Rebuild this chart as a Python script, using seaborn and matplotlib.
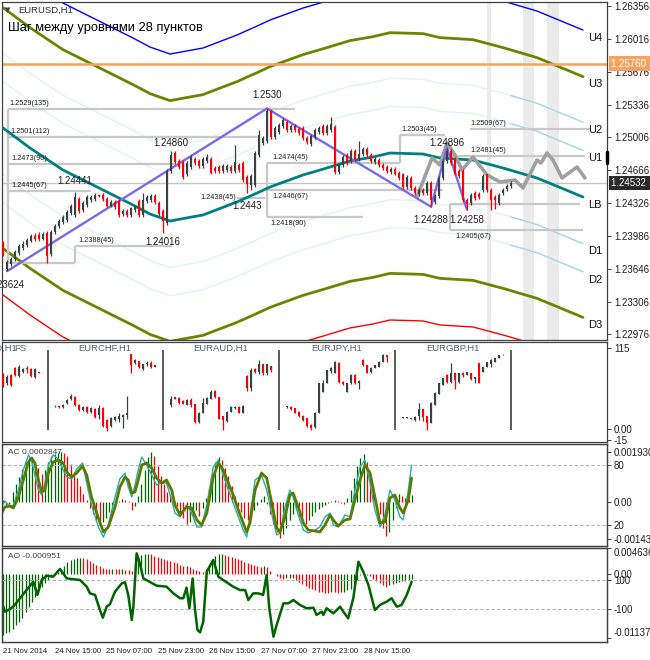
import numpy as np
import matplotlib
matplotlib.use("Agg")
import matplotlib.pyplot as plt
import seaborn as sns

sns.set_style("white")
plt.rcParams['font.family'] = ['Liberation Sans', 'DejaVu Sans']

W, H = 650, 660

# ---------------- EURUSD H1 candles (bar 0..127) ----------------
opens = [1.2392, 1.2365, 1.2370, 1.2375, 1.2381, 1.2386, 1.2389, 1.2394, 1.2399, 1.2400,
         1.2396, 1.2402, 1.2380, 1.2403, 1.2409, 1.2413, 1.2415, 1.2422, 1.2420, 1.2437,
         1.2425, 1.2431, 1.2436, 1.2437, 1.2441, 1.2441, 1.2437, 1.2430, 1.2434, 1.2435,
         1.2421, 1.2424, 1.2420, 1.2425, 1.2435, 1.2420, 1.2435, 1.2436, 1.2440, 1.2433,
         1.2424, 1.2412, 1.2466, 1.2484, 1.2476, 1.2475, 1.2462, 1.2470, 1.2478, 1.2476,
         1.2471, 1.2476, 1.2478, 1.2469, 1.2470, 1.2466, 1.2467, 1.2470, 1.2466, 1.2472,
         1.2474, 1.2459, 1.2451, 1.2451, 1.2482, 1.2494, 1.2496, 1.2527, 1.2501, 1.2506,
         1.2512, 1.2516, 1.2508, 1.2512, 1.2509, 1.2510, 1.2500, 1.2493, 1.2501, 1.2506,
         1.2512, 1.2505, 1.2508, 1.2511, 1.2465, 1.2472, 1.2482, 1.2476, 1.2486, 1.2478,
         1.2483, 1.2488, 1.2482, 1.2475, 1.2477, 1.2472, 1.2470, 1.2465, 1.2468, 1.2464,
         1.2462, 1.2449, 1.2458, 1.2448, 1.2442, 1.2446, 1.2443, 1.2453, 1.2434, 1.2440,
         1.2458, 1.2476, 1.2486, 1.2478, 1.2466, 1.2466, 1.2436, 1.2433, 1.2443, 1.2442,
         1.2446, 1.2462, 1.2446, 1.2439, 1.2433, 1.2443, 1.2447, 1.2450]
highs = [1.2394, 1.2374, 1.2377, 1.2384, 1.2390, 1.2393, 1.2397, 1.2401, 1.2402, 1.2403,
         1.2403, 1.2404, 1.2405, 1.2411, 1.2416, 1.2420, 1.2425, 1.2432, 1.24441, 1.2439,
         1.2435, 1.2441, 1.2441, 1.2443, 1.2442, 1.2443, 1.2439, 1.2436, 1.2436, 1.2437,
         1.2426, 1.2426, 1.2429, 1.2431, 1.2437, 1.2443, 1.2441, 1.2442, 1.2442, 1.2435,
         1.2426, 1.2468, 1.24860, 1.2486, 1.2478, 1.2477, 1.2476, 1.2482, 1.2480, 1.2478,
         1.2480, 1.2483, 1.2480, 1.2471, 1.2472, 1.2473, 1.2473, 1.2472, 1.2492, 1.2474,
         1.2476, 1.2461, 1.2462, 1.2486, 1.2508, 1.2502, 1.2530, 1.2529, 1.2512, 1.2515,
         1.2520, 1.2518, 1.2514, 1.2514, 1.2511, 1.2512, 1.2502, 1.2504, 1.2510, 1.2512,
         1.2514, 1.2514, 1.2521, 1.2513, 1.2474, 1.2482, 1.2484, 1.2488, 1.2488, 1.2496,
         1.2490, 1.2490, 1.2484, 1.2480, 1.2479, 1.2474, 1.2472, 1.2470, 1.2470, 1.2466,
         1.2464, 1.2461, 1.2460, 1.2450, 1.2448, 1.2448, 1.2455, 1.2455, 1.2442, 1.2460,
         1.2478, 1.24896, 1.2488, 1.2480, 1.2468, 1.2468, 1.2438, 1.2443, 1.2445, 1.2444,
         1.2462, 1.2463, 1.2448, 1.2441, 1.2443, 1.2448, 1.2452, 1.2455]
lows = [1.2378, 1.23624, 1.2368, 1.2373, 1.2379, 1.2384, 1.2387, 1.2392, 1.2394, 1.2394,
        1.2395, 1.2371, 1.2378, 1.2401, 1.2407, 1.2411, 1.2413, 1.2420, 1.2418, 1.2422,
        1.2423, 1.2429, 1.2434, 1.2435, 1.2439, 1.2435, 1.2428, 1.2428, 1.2426, 1.2418,
        1.2419, 1.2418, 1.2418, 1.2423, 1.2418, 1.2418, 1.2433, 1.2434, 1.2432, 1.2419,
        1.24016, 1.2410, 1.2464, 1.2473, 1.2468, 1.2457, 1.2460, 1.2468, 1.2472, 1.2469,
        1.2469, 1.2474, 1.2462, 1.2464, 1.2464, 1.2464, 1.2465, 1.2464, 1.2464, 1.2465,
        1.2454, 1.2443, 1.2446, 1.2449, 1.2480, 1.2492, 1.2494, 1.2499, 1.2499, 1.2504,
        1.2510, 1.2506, 1.2506, 1.2506, 1.2503, 1.2498, 1.2493, 1.2491, 1.2499, 1.2504,
        1.2503, 1.2503, 1.2506, 1.2463, 1.2463, 1.2470, 1.2472, 1.2474, 1.2476, 1.2476,
        1.2481, 1.2480, 1.2474, 1.2473, 1.2470, 1.2467, 1.2464, 1.2463, 1.2461, 1.2456,
        1.2447, 1.2447, 1.2446, 1.2441, 1.2440, 1.2441, 1.2441, 1.24288, 1.2432, 1.2438,
        1.2456, 1.2474, 1.2472, 1.2461, 1.2458, 1.2434, 1.24258, 1.2431, 1.2436, 1.2437,
        1.2444, 1.2444, 1.2425, 1.2426, 1.2431, 1.2441, 1.2445, 1.2448]
closes = [1.2380, 1.2372, 1.2375, 1.2382, 1.2388, 1.2390, 1.2395, 1.2399, 1.2396, 1.2396,
          1.2401, 1.2378, 1.2403, 1.2409, 1.2414, 1.2418, 1.2423, 1.2430, 1.2439, 1.2424,
          1.2433, 1.2439, 1.2439, 1.2441, 1.2440, 1.2437, 1.2430, 1.2434, 1.2428, 1.2420,
          1.2424, 1.2420, 1.2427, 1.2429, 1.2420, 1.2436, 1.2439, 1.2440, 1.2434, 1.2421,
          1.2414, 1.2466, 1.2482, 1.2475, 1.2470, 1.2459, 1.2474, 1.2480, 1.2474, 1.2471,
          1.2478, 1.2480, 1.2464, 1.2466, 1.2466, 1.2471, 1.2471, 1.2466, 1.2475, 1.2467,
          1.2456, 1.2452, 1.2460, 1.2484, 1.2503, 1.2500, 1.2527, 1.2501, 1.2510, 1.2513,
          1.2518, 1.2508, 1.2512, 1.2508, 1.2505, 1.2500, 1.2495, 1.2502, 1.2508, 1.2510,
          1.2505, 1.2512, 1.2514, 1.2465, 1.2472, 1.2480, 1.2474, 1.2486, 1.2478, 1.2483,
          1.2488, 1.2482, 1.2476, 1.2478, 1.2472, 1.2469, 1.2466, 1.2468, 1.2463, 1.2458,
          1.2449, 1.2459, 1.2448, 1.2443, 1.2446, 1.2443, 1.2453, 1.2436, 1.2440, 1.2458,
          1.2476, 1.2486, 1.2474, 1.2463, 1.2460, 1.2436, 1.2432, 1.2441, 1.2438, 1.2439,
          1.2460, 1.2446, 1.2436, 1.2436, 1.2441, 1.2446, 1.2450, 1.24532]

# moving average (LB) and envelope offsets
ma_bar = [-1, 0, 6.75, 15, 22.5, 32.5, 36.75, 41.75, 50, 58.5, 63.5, 66.75, 75, 79.25,
          86.75, 92.5, 96.75, 105, 109.25, 117.5, 125, 133.5, 145]
ma_price = [1.2512, 1.25099, 1.24893, 1.24666, 1.24512, 1.24306, 1.24213, 1.24141, 1.24203,
            1.24337, 1.24429, 1.24491, 1.24615, 1.24666, 1.24759, 1.24800, 1.24841, 1.24831,
            1.24790, 1.24769, 1.24687, 1.24584, 1.24388]
env_offsets = [0.0048, 0.0077, 0.0124, 0.0172]
env_names_up = ['U1', 'U2', 'U3', 'U4']
env_names_dn = ['D1', 'D2', 'D3', '']

# zigzag and projected pattern
zz_bar = [1, 66, 107, 111, 116]
zz_price = [1.23624, 1.2530, 1.24288, 1.24896, 1.24258]
proj_bar = [103.5, 107.25, 109.25, 111, 113, 114.75, 117.5, 121, 124.25, 128, 130, 133.5,
            134.5, 136, 137.5, 139.75, 143.5, 145.5]
proj_price = [1.24388, 1.24790, 1.24718, 1.24945, 1.24821, 1.24666, 1.24800, 1.24615,
              1.24543, 1.24563, 1.24481, 1.24769, 1.24738, 1.24841, 1.24769, 1.24584,
              1.24697, 1.24584]

# swing labels
swing_bar = [66, 42, 18, 40, 61, 1, 107, 111, 116]
swing_price = [1.2530, 1.24860, 1.24441, 1.24016, 1.2443, 1.23624, 1.24288, 1.24896, 1.24258]
swing_text = ['1.2530', '1.24860', '1.24441', '1.24016', '1.2443', '1.23624', '1.24288',
              '1.24896', '1.24258']
swing_off = [6, 2, 4, -3, -6, -6, -6, 0, -4]

# level boxes
level_vals = [1.2529, 1.2501, 1.2473, 1.2445, 1.2388, 1.2438, 1.2474, 1.2446, 1.2418,
              1.2503, 1.2509, 1.2481, 1.2405]
level_cnt = [135, 112, 90, 67, 45, 45, 45, 67, 90, 45, 67, 45, 67]
level_from = [1.25, 1.25, 1.25, 1.25, 18, 58.5, 66, 66, 66, 99.25, 116.75, 109.25, 111.75]
level_to = [73, 64, 43, 22, 42.25, 65.5, 99.25, 110, 90, 110.5, 146.75, 145.5, 145]
level_lab_x = [1.5, 1.75, 2, 2, 18.75, 58.3, 67.25, 67.25, 66.75, 99.5, 116.75, 116.75, 113]
level_lab_pos = ['a', 'a', 'a', 'a', 'a', 'l', 'a', 'b', 'b', 'a', 'a', 'a', 'b']
plain_vals = [1.2371, 1.2432]
plain_from = [1.25, 111.75]
plain_to = [18, 144.25]
vert_bar = [1.25, 18, 66, 99.25, 111.75]
vert_lo = [1.2371, 1.2371, 1.2418, 1.2474, 1.2405]
vert_hi = [1.2529, 1.2388, 1.2474, 1.2503, 1.2432]
shade_from = [121, 130, 136]
shade_to = [122, 132.75, 139]

price_ticks = [1.26356, 1.26016, 1.25676, 1.25336, 1.25006, 1.24666, 1.24326, 1.23986,
               1.23646, 1.23306, 1.22976]
last_price = 1.24532
alert_price = 1.25760

# ---------------- mini charts (normalised 0..115) ----------------
mini_names = ['EURUSD,H1', 'EURCHF,H1', 'EURAUD,H1', 'EURJPY,H1', 'EURGBP,H1']
fs_ohlc = [(76.7, 79.5, 59.7, 62.5), (65.3, 76.7, 62.5, 73.9), (76.7, 78, 61, 62.5),
           (86.6, 88, 75, 76.7), (75.3, 90.9, 73.9, 88), (80.9, 86.6, 80, 85.2),
           (86.6, 89.5, 79.5, 85.2), (85.2, 86.6, 73.9, 75.3), (73.9, 86.6, 72.4, 85.2),
           (81, 81.5, 80, 80)]
chf_ohlc = [(32.7, 33.5, 31.5, 32), (32, 33, 30, 31.3), (31.3, 35.5, 30, 34.1),
            (36.9, 43, 36, 41.2), (42.6, 49, 41.2, 46.9), (45.5, 46.5, 33, 34.1),
            (34.1, 35, 26, 27), (27, 32, 26, 31.3), (31.3, 32, 23, 24.1), (24.1, 31, 23, 29.8),
            (28.4, 29.8, 16, 17), (19.9, 34, 14.2, 29.8), (29.8, 31, 3, 4.3),
            (12.8, 14.2, -2.8, 1.4), (4.3, 17, 3, 15.6), (12.8, 18.5, 12, 17),
            (14.2, 22.7, 10, 18.5), (17, 21, 2, 19.9), (19.9, 46.9, 14.2, 22.7),
            (106.5, 106.5, 79.5, 90.9), (93.8, 99, 92, 98), (96.6, 97, 87, 88.1),
            (85.2, 93, 84, 92.3), (92.3, 96.6, 90, 93.8), (93.8, 97, 87, 88.1),
            (88.1, 91, 88, 90.9)]
aud_ohlc = [(34.1, 46.9, 31.3, 42.6), (45.5, 46, 42, 42.6), (44, 45, 36, 36.9),
            (39.8, 40.5, 35, 35.5), (34.1, 42, 33.5, 41.2), (41.2, 44, 31.3, 34.1),
            (35.5, 36, 9, 9.9), (9.9, 23.5, 9, 22.7), (22.7, 44, 22, 36.9), (35.5, 45, 35, 44),
            (42.6, 56, 42, 52.6), (54, 56, 44.5, 45.5), (45.5, 46, 13.5, 14.2),
            (18.5, 19, -1.4, 12.8), (11.4, 25, 10.5, 24.1), (24.1, 32, 23.5, 31.3),
            (29.8, 32, 28.5, 30.5), (31.3, 32, 22, 22.7), (22.7, 33.5, 22, 32.7),
            (75.3, 76, 54, 58.2), (58.2, 87, 54, 83.8), (85.2, 87, 79.5, 81),
            (81, 98, 78, 92.3), (92.3, 93, 77, 79.5), (79.5, 93, 77, 92.3), (89.5, 90, 81, 83.8)]
jpy_ohlc = [(31.3, 33, 30, 31.8), (31.3, 32, 27.5, 28.4), (29.8, 30.5, 22, 22.7),
            (24.1, 25, 17.5, 18.5), (18.5, 19.5, 12, 12.8), (15.6, 16, 3.5, 4.3),
            (5.7, 6.5, -1.4, 1.4), (2.8, 23.5, 2, 22.7), (22.7, 66, 22, 65.3),
            (52.6, 69.6, 52, 65.3), (65.3, 84.5, 65, 83.8), (82, 88, 80, 86.5),
            (79.5, 96, 79, 95.2), (93.8, 95, 66, 66.8), (66.8, 67.5, 63, 63.9),
            (52.6, 66, 52, 65.3), (65.3, 77.5, 64.5, 76.7), (76.7, 77.5, 64.5, 65.3),
            (65.3, 69, 56.8, 68.2), (98, 99, 90, 90.9), (90.9, 91.5, 79, 79.5),
            (81, 87.5, 80, 86.6), (86.6, 91.5, 86, 90.9), (88.1, 96, 87.5, 95.2),
            (95.2, 106, 94.5, 105), (105, 105.5, 95.2, 102)]
gbp_ohlc = [(15.6, 17, 15, 16), (15.6, 16.5, 15, 16), (14.9, 16, 13.5, 14.2),
            (12.8, 18, 12, 17), (18.5, 36.9, 12.8, 28.4), (28.4, 29, 11, 17),
            (18.5, 19, -1.4, 8.5), (8.5, 39, 8, 36.9), (34.1, 52, 33.5, 51.1),
            (49.7, 66, 49, 65.3), (62.5, 73, 62, 72.4), (76.7, 77.5, 66, 66.8),
            (66.8, 93.8, 65.3, 79.5), (79.5, 80, 56.8, 69.6), (66.8, 80, 66, 79.5),
            (79.5, 81, 74, 76.7), (76.7, 81.5, 76, 81), (79.5, 80, 70, 71),
            (71, 74.5, 65.3, 73.9), (93.8, 94, 65, 65.3), (81, 88.5, 80.5, 88.1),
            (88.1, 95.5, 87.5, 95.2), (92.3, 100, 88, 98), (95.2, 101.5, 94.5, 100.9),
            (100.9, 105.5, 100.5, 105), (105, 106, 104.5, 105.5)]
mini_first_slot = [0, 13, 42, 71, 100]
mini_sep = [11.25, 40, 69, 98, 127]

# ---------------- AC panel ----------------
ac_hist_e5 = [8, -12, -8, 39, 69, 97, 127, 154, 170, 174,
              154, 131, 108, 124, 154, 178, 185, 189, 193, 189,
              178, 147, 116, 93, 62, 31, 8, -23, -46, -69,
              -85, -77, -62, -39, -19, -8, 4, 12, 8, 4,
              -31, -15, 23, 69, 124, 174, 193, 178, 139, 100,
              69, 39, 27, 8, -15, -39, -62, -85, -77, -54,
              -31, -54, -23, 15, 54, 108, 154, 174, 162, 131,
              100, 62, 23, -15, -39, -62, -69, -54, -31, -12,
              12, 23, -8, -46, -85, -116, -139, -124, -100, -69,
              -46, -31, -54, -77, -85, -69, -54, -39, -27, -19,
              -12, -4, 4, 8, 4, -4, -8, 15, 46, 93,
              139, 170, 185, 154, 108, 62, 8, -46, -100, -131,
              -116, -69, -23, 31, 23, 15, 12, 27]
st_bar = [-0.9, 0.6, 2.2, 3.2, 4.8, 6.3, 7.9, 8.9, 9.9, 11.0, 12.0, 13.0, 14.1, 15.6, 17.2,
          18.7, 19.8, 21.3, 22.9, 24.7, 26.0, 27.5, 29.6, 31.2, 32.7, 34.8, 36.3, 37.9, 38.9,
          40.0, 41.0, 42.0, 43.1, 44.6, 46.2, 47.7, 49.3, 50.8, 52.4, 53.4, 55.0, 57.0, 58.6,
          60.2, 61.7, 63.3, 65.3, 66.9, 68.4, 70.0, 71.5, 73.1, 74.6, 75.7, 76.7, 78.3, 80.3,
          81.9, 83.4, 85.0, 86.0, 87.6, 89.1, 90.1, 91.7, 93.3, 94.8, 96.9, 98.4, 100.0, 101.6,
          102.6, 104.1, 106.2, 107.8, 109.3, 110.9, 112.4, 114.0, 115.5, 117.1, 118.6, 120.2,
          121.7, 123.3, 124.3, 125.9, 126.9]
st_main = [29, 38, 39, 37, 48, 65, 83, 87, 82, 65, 53, 55, 72, 83, 85, 82, 73, 68, 72, 79,
           70, 48, 27, 13, 18, 38, 58, 68, 65, 52, 53, 65, 80, 82, 77, 67, 62, 65, 55, 40,
           30, 38, 37, 25, 20, 32, 68, 82, 75, 62, 50, 35, 22, 13, 22, 55, 72, 67, 43, 17,
           13, 28, 50, 52, 38, 22, 15, 14, 13, 20, 30, 25, 19, 25, 26, 45, 65, 80, 72, 48,
           22, 23, 47, 50, 37, 32, 45, 67]
st_signal = [35, 44, 38, 40, 55, 75, 90, 84, 70, 55, 50, 62, 80, 90, 86, 75, 68, 66, 76, 82,
             62, 40, 18, 8, 20, 48, 66, 72, 58, 48, 60, 75, 88, 80, 70, 60, 62, 62, 45, 32,
             28, 40, 32, 18, 18, 40, 78, 85, 70, 55, 42, 28, 15, 8, 28, 65, 70, 55, 32, 10,
             12, 38, 55, 48, 30, 15, 12, 15, 18, 28, 32, 20, 18, 30, 28, 55, 78, 85, 62, 35,
             18, 30, 55, 45, 28, 25, 55, 80]

# ---------------- AO panel ----------------
ao_hist_e4 = [-108, -105, -102, -97, -91, -84, -77, -68, -59, -50,
              -41, -32, -23, -16, -10, -5, -1, 4, 9, 15,
              21, 25, 26, 28, 29, 28, 26, 23, 20, 17,
              14, 11, 10, 9, 9.5, 9.3, 9.0, 9.1, 8, 7,
              5, 17, 30, 34, 35, 36, 35, 33, 31, 29,
              27, 25, 24, 21, 19, 17, 15, 14, 12, 10,
              8, 6, 4, 9, 17, 25, 33, 35, 36, 34,
              32, 31, 28, 26, 25, 22, 20, 18, 17, 15,
              13, 14, 13, 6, 0, -4, -7, -9, -7, -6,
              -7, -10, -14, -18, -21, -25, -27, -29, -31, -32,
              -33, -33.5, -32, -32.5, -33, -32, -31, -29, -26, -19,
              -10, -2, 2, -1, -4, -8, -12, -15, -19, -22,
              -20, -18, -16, -14, -13, -12, -11, -9.5]
cci_bar = [-0.1, 0.6, 1.7, 3.2, 5.3, 7.3, 9.4, 10.7, 12.0, 13.6, 15.6, 17.7, 19.8, 23.9, 26.0,
           27.0, 28.6, 30.1, 31.0, 32.2, 33.2, 34.8, 36.9, 37.9, 38.9, 40.0, 40.5, 41.5, 42.5,
           43.6, 47.7, 50.8, 52.9, 55.0, 56.0, 57.0, 57.9, 58.9, 59.6, 60.4, 61.2, 62.2, 63.3,
           65.3, 66.9, 68.4, 71.5, 73.6, 75.2, 76.2, 77.7, 79.3, 80.8, 81.9, 82.7, 84.0, 85.0,
           87.1, 88.6, 90.2, 92.2, 94.3, 96.4, 97.4, 99.0, 99.5, 100.5, 102.6, 104.7, 105.7,
           107.2, 108.8, 110.4, 111.9, 113.5, 115.5, 117.1, 119.2, 120.7, 122.3, 123.8, 125.4,
           126.9]
cci_val = [-72, -118, -107, -84, -26, 31, 88, -3, 100, 130, 123, 176, 111, 100, 54, 8, -3,
           -107, -160, -84, -68, 20, 77, 84, -3, -176, -84, 284, 215, 111, 61, 54, 8, -26, -26,
           47, -95, 111, -95, -245, -261, -187, 158, 238, 123, 100, 54, 31, 31, -38, 8, 8, -3,
           135, -95, -291, -210, -61, -61, -38, -72, -95, -91, -141, -118, -141, -95, -130,
           -84, -118, -164, -26, 226, 158, 66, -107, -72, -49, -26, -84, -72, -3, 88]

date_ticks = [0, 16, 32, 48, 64, 80, 96, 112]
date_labels = ['21 Nov 2014', '24 Nov 15:00', '25 Nov 07:00', '25 Nov 23:00',
               '26 Nov 15:00', '27 Nov 07:00', '27 Nov 23:00', '28 Nov 15:00']

UP, DN = '#3c4040', '#ff0000'
TXT = '#202020'


def rect(x0, y0, x1, y1):
    return [x0 / W, 1 - y1 / H, (x1 - x0) / W, (y1 - y0) / H]


def frame(ax):
    for s in ax.spines.values():
        s.set_color('#404040')
        s.set_linewidth(0.9)
    ax.set_facecolor('white')
    ax.tick_params(axis='y', which='both', direction='out', length=3, width=0.7,
                   colors='#404040', labelcolor=TXT, labelsize=7, pad=2)


def draw_candles(ax, x, o, h, l, c, width, minbody, z=5):
    o, h, l, c = map(np.asarray, (o, h, l, c))
    cols = np.where(c >= o, UP, DN)
    ax.vlines(x, l, h, colors=cols, lw=0.9, zorder=z)
    body = np.maximum(np.abs(c - o), minbody)
    ax.bar(x, body, width, bottom=np.minimum(o, c), color=cols, linewidth=0, zorder=z + 0.1)


fig = plt.figure(figsize=(W / 100, H / 100), dpi=100)

# ================= main chart =================
ax1 = fig.add_axes(rect(2, 2, 607, 340))
frame(ax1)
ax1.set_xlim(-0.25, 151)
ax1.set_ylim(1.22915, 1.26397)
ax1.set_xticks([])
ax1.yaxis.tick_right()
ax1.set_yticks(price_ticks)
ax1.set_yticklabels([f'{v:.5f}' for v in price_ticks])

for a, b in zip(shade_from, shade_to):
    ax1.axvspan(a, b, color='#ebebeb', lw=0, zorder=0)

ma_bar_a = np.array(ma_bar)
ma_p = np.array(ma_price)
split = 127
for k, off in enumerate(env_offsets):
    for sgn in (1, -1):
        yv = ma_p + sgn * off
        if k < 2:
            sns.lineplot(x=ma_bar_a, y=yv, ax=ax1, color='#e6f2f6', lw=1, estimator=None,
                         sort=False, zorder=1)
            m = ma_bar_a >= split
            xs = np.concatenate([[split], ma_bar_a[m]])
            ys = np.concatenate([[np.interp(split, ma_bar_a, yv)], yv[m]])
            ax1.plot(xs, ys, color='#a6d8e4', lw=1, zorder=1)
        elif k == 2:
            sns.lineplot(x=ma_bar_a, y=yv, ax=ax1, color='#6b8500', lw=2, estimator=None,
                         sort=False, zorder=2)
        else:
            sns.lineplot(x=ma_bar_a, y=yv, ax=ax1, color='#0000ff' if sgn > 0 else '#ff0000',
                         lw=1, estimator=None, sort=False, zorder=2)
sns.lineplot(x=ma_bar_a, y=ma_p, ax=ax1, color='#008080', lw=2, estimator=None, sort=False,
             zorder=3)

ax1.axhline(alert_price, color='#f4a460', lw=1.8, zorder=2)
ax1.axhline(last_price, color='#c4c4c4', lw=1, zorder=2)

lv = dict(color='#c8c8c8', lw=1.6, zorder=2, solid_capstyle='butt')
for v, a, b in zip(level_vals, level_from, level_to):
    ax1.plot([a, b], [v, v], **lv)
for v, a, b in zip(plain_vals, plain_from, plain_to):
    ax1.plot([a, b], [v, v], **lv)
for xb, lo, hi in zip(vert_bar, vert_lo, vert_hi):
    ax1.plot([xb, xb], [lo, hi], **lv)
for v, n, xl, pos in zip(level_vals, level_cnt, level_lab_x, level_lab_pos):
    lab = f'{v:.4f}({n})'
    if pos == 'l':
        ax1.annotate(lab, (xl, v), xytext=(0, 0), textcoords='offset points', ha='right',
                     va='center', fontsize=5.3, color=TXT, zorder=6)
    elif pos == 'a':
        ax1.annotate(lab, (xl, v), xytext=(0, 1.5), textcoords='offset points', ha='left',
                     va='bottom', fontsize=5.3, color=TXT, zorder=6)
    else:
        ax1.annotate(lab, (xl, v), xytext=(0, -2), textcoords='offset points', ha='left',
                     va='top', fontsize=5.3, color=TXT, zorder=6)

sns.lineplot(x=proj_bar, y=proj_price, ax=ax1, color='#a0a0a0', lw=2.6, estimator=None,
             sort=False, zorder=3)
ax1.plot(zz_bar, zz_price, color='#7b68ee', lw=1.7, zorder=4)

draw_candles(ax1, np.arange(len(closes)), opens, highs, lows, closes, 0.65, 0.00002)

for xb, p, t, off in zip(swing_bar, swing_price, swing_text, swing_off):
    ax1.annotate(t, (xb, p), xytext=(0, off), textcoords='offset points', ha='center',
                 va='bottom' if off >= 0 else 'top', fontsize=7, color=TXT, zorder=7)

end_ma = ma_price[-1]
for name, off in zip(env_names_up, env_offsets):
    ax1.annotate(name, (146.2, end_ma + off), xytext=(0, -2), textcoords='offset points',
                 ha='left', va='top', fontsize=8, color='#101010')
for name, off in zip(env_names_dn, env_offsets):
    if name:
        ax1.annotate(name, (146.2, end_ma - off), xytext=(0, -2), textcoords='offset points',
                     ha='left', va='top', fontsize=8, color='#101010')
ax1.annotate('LB', (146.2, end_ma), xytext=(0, -2), textcoords='offset points', ha='left',
             va='top', fontsize=8, color='#101010')

ytr = ax1.get_yaxis_transform()
ax1.text(1.0 + 4 / 605, alert_price, '1.25760  ', transform=ytr, ha='left', va='center',
         fontsize=7, color='white', clip_on=False, zorder=8,
         bbox=dict(boxstyle='square,pad=0.25', fc='#f4a460', ec='none'))
ax1.text(1.0 + 4 / 605, last_price, '1.24532  ', transform=ytr, ha='left', va='center',
         fontsize=7, color='white', clip_on=False, zorder=8,
         bbox=dict(boxstyle='square,pad=0.25', fc='#2a2a2a', ec='none'))
ax1.plot([1.0, 1.0], [1.24852, 1.24738], transform=ytr, color='black', lw=2.5,
         clip_on=False, zorder=9)

fig.text(5 / W, 1 - 10 / H, '▼', fontsize=5, color='#404040', va='center',
         family='DejaVu Sans')
fig.text(18 / W, 1 - 10 / H, 'EURUSD,H1', fontsize=6.8, color='#303030', va='center')
fig.text(8 / W, 1 - 28 / H, 'Шаг между уровнями 28 пунктов', fontsize=9.3, color='black',
         va='center')

# ================= mini charts panel =================
ax2 = fig.add_axes(rect(2, 342, 607, 442))
frame(ax2)
ax2.set_xlim(-0.25, 151)
ax2.set_ylim(-18.5, 123.6)
ax2.set_xticks([])
ax2.yaxis.tick_right()
ax2.set_yticks([115, 0, -15])
ax2.set_yticklabels(['115', '0.00', '-15'])
sec_data = [fs_ohlc, chf_ohlc, aud_ohlc, jpy_ohlc, gbp_ohlc]
for k, (data, start) in enumerate(zip(sec_data, mini_first_slot)):
    arr = np.array(data)
    xs = start + np.arange(len(arr))
    draw_candles(ax2, xs, arr[:, 0], arr[:, 1], arr[:, 2], arr[:, 3], 0.7, 0.8)
    left = mini_sep[k] - 29
    ax2.text((left + mini_sep[k]) / 2, 115, mini_names[k], ha='center', va='center',
             fontsize=6.8, color='#56606e')
ax2.text(2.8, 115, 'FS', ha='left', va='center', fontsize=6.8, color='#56606e')
ax2.vlines(mini_sep, -1.4, 112, colors='#404040', lw=1.2)

# ================= AC panel =================
ax3 = fig.add_axes(rect(2, 444, 607, 546))
frame(ax3)
ax3.set_xlim(-0.31, 187.6)
ax3.set_ylim(-0.001698, 0.002239)
ax3.set_xticks([])
ac = np.array(ac_hist_e5) * 1e-5
ac_cols = [('#006400' if (i == 0 or ac[i] >= ac[i - 1]) else '#ff0000') for i in range(len(ac))]
ax3.vlines(np.arange(len(ac)), 0, ac, colors=ac_cols, lw=0.9)
ax3s = ax3.twinx()
frame(ax3s)
ax3.yaxis.tick_right()
ax3.set_yticks([0.00193, 0.0, -0.001432])
ax3.set_yticklabels(['0.001930', '0.00', '-0.001432'])
ax3s.set_ylim(-1, 101)
ax3s.set_yticks([80, 20])
ax3s.set_yticklabels(['80', '20'])
for lvl in (80, 20):
    ax3s.axhline(lvl, color='#b4b4b4', lw=0.8, ls=(0, (3, 2)))
sns.lineplot(x=st_bar, y=st_signal, ax=ax3s, color='#20b2aa', lw=1, estimator=None, sort=False)
sns.lineplot(x=st_bar, y=st_main, ax=ax3s, color='#5a7a00', lw=2, estimator=None, sort=False)
ax3s.set_xlim(-0.31, 187.6)
fig.text(8 / W, 1 - 452 / H, 'AC 0.0002847', fontsize=6, color='#404040', va='center')

# ================= AO panel =================
ax4 = fig.add_axes(rect(2, 548, 607, 642))
frame(ax4)
ax4.set_xlim(-0.31, 187.6)
ax4.set_ylim(-0.012035, 0.004602)
ao = np.array(ao_hist_e4) * 1e-4
ao_cols = [('#006400' if (i == 0 or ao[i] >= ao[i - 1]) else '#ff0000') for i in range(len(ao))]
ax4.vlines(np.arange(len(ao)), 0, ao, colors=ao_cols, lw=0.9)
ax4.set_xticks(date_ticks)
ax4.set_xticklabels(date_labels, ha='left')
ax4.tick_params(axis='x', direction='out', length=3, width=0.7, colors='#404040',
                labelcolor=TXT, labelsize=5.6, pad=1.5)
ax4c = ax4.twinx()
frame(ax4c)
ax4.yaxis.tick_right()
ax4.set_yticks([0.004636, 0.0, -0.011378])
ax4.set_yticklabels(['0.004636', '0.00', '-0.011378'])
labs = ax4.get_yticklabels()
labs[0].set_va('top')
labs[2].set_va('bottom')
ax4c.set_ylim(-327.6, 320.7)
ax4c.set_yticks([100, -100])
ax4c.set_yticklabels(['100', '-100'])
for lvl in (100, -100):
    ax4c.axhline(lvl, color='#b4b4b4', lw=0.8, ls=(0, (3, 2)))
sns.lineplot(x=cci_bar, y=cci_val, ax=ax4c, color='#006400', lw=1.8, estimator=None,
             sort=False)
ax4c.set_xlim(-0.31, 187.6)
fig.text(8 / W, 1 - 556 / H, 'AO -0.000951', fontsize=6, color='#404040', va='center')

for a in (ax1, ax2, ax3, ax3s, ax4, ax4c):
    a.set_xlabel('')
    a.set_ylabel('')

fig.savefig('out.png', dpi=100, facecolor='white')
